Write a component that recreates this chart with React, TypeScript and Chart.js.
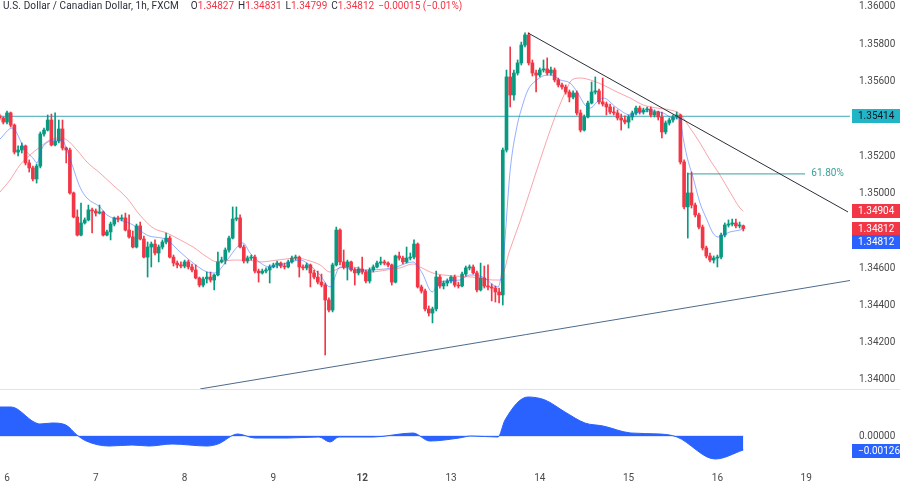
import React, { useEffect, useRef } from 'react';
import { Chart, registerables } from 'chart.js';

Chart.register(...registerables);

// ---------------- data (hourly candles, index = hours since start of day 6) ----------------
const FIRST_INDEX = -2;
const FIRST_OPEN = 1.35416;

const closes = [
  1.35405, 1.35383,
  1.35432, 1.35367, 1.35222, 1.35233, 1.35255, 1.35164, 1.35137, 1.35078, 1.35147, 1.35319,
  1.35340, 1.35394, 1.35260, 1.35281, 1.35346, 1.35244, 1.35233, 1.35003, 1.34874, 1.34777,
  1.34842, 1.34858, 1.34912, 1.34906, 1.34895, 1.34901, 1.34777, 1.34794, 1.34836, 1.34869,
  1.34863, 1.34869, 1.34804, 1.34767, 1.34713, 1.34826, 1.34756, 1.34659, 1.34713, 1.34729,
  1.34681, 1.34713, 1.34740, 1.34761, 1.34659, 1.34627, 1.34617, 1.34611, 1.34633, 1.34606,
  1.34590, 1.34547, 1.34509, 1.34542, 1.34552, 1.34536, 1.34563, 1.34633, 1.34643, 1.34697,
  1.34761, 1.34863, 1.34869, 1.34713, 1.34638, 1.34654, 1.34659, 1.34584, 1.34574, 1.34584,
  1.34590, 1.34606, 1.34617, 1.34627, 1.34611, 1.34606, 1.34633, 1.34654, 1.34659, 1.34606,
  1.34601, 1.34617, 1.34574, 1.34552, 1.34525, 1.34509, 1.34429, 1.34375, 1.34617, 1.34804,
  1.34633, 1.34606, 1.34633, 1.34590, 1.34574, 1.34595, 1.34579, 1.34531, 1.34590, 1.34606,
  1.34627, 1.34633, 1.34627, 1.34617, 1.34525, 1.34665, 1.34654, 1.34633, 1.34654, 1.34659,
  1.34729, 1.34499, 1.34477, 1.34381, 1.34359, 1.34381, 1.34552, 1.34504, 1.34520, 1.34531,
  1.34552, 1.34509, 1.34504, 1.34568, 1.34601, 1.34606, 1.34574, 1.34483, 1.34547, 1.34504,
  1.34499, 1.34493, 1.34472, 1.34456, 1.35233, 1.35625, 1.35528, 1.35646, 1.35700, 1.35796,
  1.35850, 1.35700, 1.35646, 1.35635, 1.35662, 1.35668, 1.35646, 1.35662, 1.35609, 1.35582,
  1.35571, 1.35544, 1.35517, 1.35539, 1.35432, 1.35340, 1.35410, 1.35485, 1.35544, 1.35550,
  1.35491, 1.35480, 1.35464, 1.35437, 1.35432, 1.35405, 1.35394, 1.35383, 1.35410, 1.35432,
  1.35458, 1.35437, 1.35448, 1.35453, 1.35421, 1.35437, 1.35410, 1.35330, 1.35378, 1.35394,
  1.35410, 1.35421, 1.35169, 1.34928, 1.35003, 1.34938, 1.34885, 1.34820, 1.34708, 1.34665,
  1.34643, 1.34654, 1.34659, 1.34777, 1.34831, 1.34836, 1.34842, 1.34826, 1.34827, 1.34812,
];

const highs = [
  1.35426, 1.35410,
  1.35442, 1.35437, 1.35373, 1.35255, 1.35271, 1.35260, 1.35180, 1.35147, 1.35158, 1.35330,
  1.35351, 1.35421, 1.35426, 1.35432, 1.35394, 1.35394, 1.35249, 1.35244, 1.35008, 1.34912,
  1.34949, 1.34869, 1.34938, 1.34922, 1.34917, 1.34938, 1.34906, 1.34804, 1.34847, 1.34874,
  1.34879, 1.34885, 1.34895, 1.34885, 1.34799, 1.34836, 1.34847, 1.34772, 1.34740, 1.34740,
  1.34751, 1.34724, 1.34751, 1.34788, 1.34772, 1.34670, 1.34638, 1.34633, 1.34643, 1.34643,
  1.34622, 1.34617, 1.34552, 1.34552, 1.34579, 1.34579, 1.34568, 1.34686, 1.34659, 1.34708,
  1.34772, 1.34928, 1.34928, 1.34885, 1.34724, 1.34665, 1.34670, 1.34670, 1.34595, 1.34595,
  1.34601, 1.34617, 1.34627, 1.34638, 1.34633, 1.34627, 1.34643, 1.34665, 1.34670, 1.34665,
  1.34617, 1.34627, 1.34622, 1.34590, 1.34584, 1.34568, 1.34520, 1.34440, 1.34627, 1.34820,
  1.34810, 1.34697, 1.34643, 1.34638, 1.34601, 1.34606, 1.34659, 1.34590, 1.34601, 1.34617,
  1.34638, 1.34659, 1.34643, 1.34633, 1.34622, 1.34670, 1.34686, 1.34665, 1.34713, 1.34681,
  1.34751, 1.34735, 1.34509, 1.34488, 1.34397, 1.34391, 1.34584, 1.34563, 1.34531, 1.34542,
  1.34558, 1.34563, 1.34525, 1.34579, 1.34611, 1.34617, 1.34617, 1.34584, 1.34627, 1.34611,
  1.34617, 1.34515, 1.34504, 1.34493, 1.35244, 1.35662, 1.35786, 1.35662, 1.35716, 1.35812,
  1.35861, 1.35861, 1.35716, 1.35662, 1.35673, 1.35716, 1.35727, 1.35678, 1.35673, 1.35619,
  1.35592, 1.35582, 1.35555, 1.35550, 1.35550, 1.35448, 1.35421, 1.35496, 1.35598, 1.35625,
  1.35560, 1.35619, 1.35491, 1.35480, 1.35464, 1.35448, 1.35426, 1.35416, 1.35421, 1.35442,
  1.35469, 1.35469, 1.35458, 1.35464, 1.35464, 1.35448, 1.35442, 1.35437, 1.35389, 1.35405,
  1.35421, 1.35437, 1.35426, 1.35180, 1.35110, 1.35115, 1.34949, 1.34895, 1.34831, 1.34718,
  1.34681, 1.34665, 1.34670, 1.34788, 1.34842, 1.34858, 1.34863, 1.34863, 1.34847, 1.34831,
];

const lows = [
  1.35394, 1.35373,
  1.35373, 1.35357, 1.35212, 1.35201, 1.35217, 1.35153, 1.35115, 1.35067, 1.35056, 1.35137,
  1.35308, 1.35335, 1.35255, 1.35255, 1.35271, 1.35233, 1.35164, 1.34997, 1.34869, 1.34772,
  1.34772, 1.34836, 1.34853, 1.34788, 1.34879, 1.34890, 1.34772, 1.34772, 1.34751, 1.34826,
  1.34847, 1.34853, 1.34799, 1.34761, 1.34708, 1.34708, 1.34751, 1.34654, 1.34552, 1.34606,
  1.34670, 1.34633, 1.34702, 1.34729, 1.34654, 1.34611, 1.34601, 1.34601, 1.34601, 1.34595,
  1.34579, 1.34542, 1.34499, 1.34499, 1.34520, 1.34525, 1.34483, 1.34558, 1.34627, 1.34622,
  1.34686, 1.34756, 1.34853, 1.34708, 1.34627, 1.34627, 1.34643, 1.34574, 1.34525, 1.34568,
  1.34574, 1.34520, 1.34601, 1.34601, 1.34601, 1.34595, 1.34601, 1.34627, 1.34643, 1.34552,
  1.34590, 1.34590, 1.34499, 1.34542, 1.34515, 1.34499, 1.34134, 1.34365, 1.34365, 1.34611,
  1.34617, 1.34595, 1.34536, 1.34584, 1.34509, 1.34563, 1.34568, 1.34520, 1.34520, 1.34579,
  1.34601, 1.34617, 1.34617, 1.34606, 1.34509, 1.34520, 1.34643, 1.34622, 1.34627, 1.34643,
  1.34649, 1.34493, 1.34466, 1.34370, 1.34343, 1.34306, 1.34370, 1.34493, 1.34488, 1.34504,
  1.34520, 1.34499, 1.34493, 1.34499, 1.34558, 1.34590, 1.34568, 1.34472, 1.34477, 1.34493,
  1.34483, 1.34424, 1.34418, 1.34413, 1.34402, 1.35222, 1.35464, 1.35501, 1.35635, 1.35689,
  1.35786, 1.35689, 1.35630, 1.35544, 1.35625, 1.35651, 1.35635, 1.35635, 1.35598, 1.35571,
  1.35560, 1.35533, 1.35491, 1.35507, 1.35421, 1.35330, 1.35335, 1.35405, 1.35480, 1.35533,
  1.35480, 1.35469, 1.35421, 1.35426, 1.35421, 1.35394, 1.35340, 1.35373, 1.35351, 1.35394,
  1.35421, 1.35426, 1.35426, 1.35437, 1.35410, 1.35410, 1.35394, 1.35298, 1.35319, 1.35367,
  1.35383, 1.35399, 1.35158, 1.34917, 1.34761, 1.34922, 1.34874, 1.34810, 1.34697, 1.34654,
  1.34633, 1.34627, 1.34606, 1.34649, 1.34767, 1.34820, 1.34826, 1.34815, 1.34815, 1.34799,
];

// fast moving average (blue)
const fastMaIdx = [
  -1.9, 1.4, 4.9, 7.0, 8.1, 9.5, 11.1, 13.0, 14.9, 16.2, 17.8, 19.7, 21.6, 25.1, 27.0, 30.5,
  34.1, 37.8, 43.2, 46.8, 50.3, 54.1, 56.2, 59.5, 62.2, 63.8, 65.7, 71.1, 75.7, 79.2, 82.7,
  84.6, 87.3, 90.0, 95.4, 104.3, 109.7, 112.2, 114.9, 117.0, 122.4, 125.1, 128.6, 132.7, 134.1,
  136.0, 137.8, 139.2, 140.8, 143.2, 145.9, 147.3, 149.5, 152.2, 154.1, 156.2, 157.6, 159.5,
  161.1, 164.9, 168.4, 170.3, 173.8, 177.3, 180.0, 181.9, 182.7, 183.8, 185.4, 187.3, 189.2,
  190.8, 192.2, 193.5, 195.4, 198.1, 199,
];
const fastMaVal = [
  1.35292, 1.35351, 1.35233, 1.35190, 1.35164, 1.35244, 1.35276, 1.35287, 1.35287, 1.35233,
  1.35142, 1.35035, 1.34976, 1.34928, 1.34885, 1.34858, 1.34831, 1.34777, 1.34751, 1.34686,
  1.34627, 1.34579, 1.34574, 1.34643, 1.34713, 1.34735, 1.34681, 1.34606, 1.34627, 1.34643,
  1.34601, 1.34563, 1.34499, 1.34606, 1.34590, 1.34601, 1.34633, 1.34574, 1.34472, 1.34525,
  1.34536, 1.34563, 1.34552, 1.34499, 1.34643, 1.35126, 1.35357, 1.35464, 1.35555, 1.35609,
  1.35635, 1.35635, 1.35609, 1.35592, 1.35544, 1.35475, 1.35458, 1.35491, 1.35512, 1.35458,
  1.35421, 1.35432, 1.35442, 1.35432, 1.35405, 1.35405, 1.35303, 1.35196, 1.35088, 1.34949,
  1.34858, 1.34788, 1.34767, 1.34777, 1.34794, 1.34804, 1.34812,
];

// slow moving average (pink)
const slowMaIdx = [
  -1.9, 0.8, 3.5, 6.2, 8.9, 11.6, 14.3, 16.2, 18.9, 21.6, 25.1, 28.6, 32.4, 35.9, 39.5, 43.2,
  46.8, 50.3, 54.1, 56.8, 61.1, 64.9, 68.4, 73.0, 78.4, 81.1, 84.6, 87.3, 90.0, 93.5, 98.1,
  102.7, 106.2, 109.7, 111.6, 115.1, 120.5, 125.9, 131.4, 133.2, 135.9, 138.6, 144.1, 147.6,
  150.8, 152.7, 154.9, 157.6, 161.1, 164.9, 168.4, 171.9, 175.7, 179.2, 181.9, 184.6, 187.3,
  190.0, 192.7, 195.4, 198.1, 199,
];
const slowMaVal = [
  1.35008, 1.35072, 1.35153, 1.35206, 1.35249, 1.35287, 1.35298, 1.35287, 1.35233, 1.35169,
  1.35110, 1.35046, 1.34976, 1.34885, 1.34815, 1.34788, 1.34751, 1.34713, 1.34659, 1.34633,
  1.34643, 1.34643, 1.34633, 1.34643, 1.34654, 1.34643, 1.34617, 1.34579, 1.34601, 1.34606,
  1.34579, 1.34590, 1.34601, 1.34622, 1.34606, 1.34574, 1.34558, 1.34552, 1.34536, 1.34536,
  1.34697, 1.34847, 1.35180, 1.35383, 1.35539, 1.35609, 1.35619, 1.35609, 1.35582, 1.35544,
  1.35512, 1.35475, 1.35458, 1.35448, 1.35426, 1.35351, 1.35271, 1.35180, 1.35099, 1.35008,
  1.34922, 1.34904,
];

// oscillator (lower pane)
const oscIdx = [
  -1.9, 1.1, 7.3, 8.9, 12.2, 15.9, 18.9, 21.4, 27.6, 33.8, 38.4, 44.6, 54.1, 57.0, 62.4, 67.0,
  75.7, 84.3, 87.3, 89.7, 98.9, 109.7, 114.3, 122.2, 125.4, 132.7, 134.6, 140.8, 145.4, 150.8,
  156.2, 161.1, 168.6, 176.5, 181.1, 191.4, 199,
];
const oscVal = [
  0.00261, 0.00261, 0.00126, 0.00108, 0.00117, 0.00099, 0.00009, -0.00045, -0.00090, -0.00081,
  -0.00090, -0.00072, -0.00090, -0.00072, 0.00018, -0.00018, -0.00018, -0.00009, -0.00054,
  -0.00009, -0.00009, 0.00027, -0.00045, -0.00018, 0.0, -0.00009, 0.00144, 0.00351, 0.00324,
  0.00216, 0.00117, 0.00090, 0.00027, 0.00018, -0.00009, -0.00207, -0.00126,
];

// drawings
const downTrendIdx = [140.8, 227.3];
const downTrendVal = [1.35861, 1.34901];
const upTrendIdx = [52.2, 228.6];
const upTrendVal = [1.33952, 1.34536];
const levelPrice = 1.35414;
const fibPrice = 1.35105;
const fibIdx = [184, 215.7];
const fibLabelIdx = 217.4;
const fibLabel = '61.80%';

// tick labels
const priceTicks = [1.34, 1.342, 1.344, 1.346, 1.35, 1.352, 1.356, 1.358, 1.36];
const dayTickIdx = [0, 24, 48, 72, 96, 120, 144, 168, 192, 216];
const dayTickLabels = ['6', '7', '8', '9', '12', '13', '14', '15', '16', '19'];
const oscTicks = [0];

// header
const headerTitle = 'U.S. Dollar / Canadian Dollar, 1h, FXCM';
const ohlcKeys = ['O', 'H', 'L', 'C'];
const ohlcValues = ['1.34827', '1.34831', '1.34799', '1.34812'];
const changeText = '\u22120.00015 (\u22120.01%)';

// last values for axis tags
const lastPrice = 1.34812;
const fastMaLast = 1.34812;
const slowMaLast = 1.34904;
const oscLast = -0.00126;

// ---------------- layout / style ----------------
const X_MIN = -1.892;
const X_MAX = 227.84;
const PRICE_MIN = 1.339517;
const PRICE_MAX = 1.360375;
const OSC_MIN = -0.0027;
const OSC_MAX = 0.00423;
const UP = '#089981';
const DOWN = '#f23645';
const FONT = 'Roboto, "Liberation Sans", sans-serif';
const AXIS_TEXT = '#4a4a4a';

function drawTag(ctx: CanvasRenderingContext2D, y: number, text: string, bg: string, fg: string) {
  ctx.fillStyle = bg;
  ctx.fillRect(852, Math.round(y - 7), 48, 14);
  ctx.fillStyle = fg;
  ctx.textAlign = 'left';
  ctx.textBaseline = 'middle';
  ctx.fillText(text, 858, Math.round(y - 7) + 7.5);
}

export default function App() {
  const priceRef = useRef<HTMLCanvasElement>(null);
  const oscRef = useRef<HTMLCanvasElement>(null);

  useEffect(() => {
    document.body.style.margin = '0';
    const opens = closes.map((_, k) => (k === 0 ? FIRST_OPEN : closes[k - 1]));
    const xs = closes.map((_, k) => FIRST_INDEX + k);
    const colors = closes.map((c, k) => (c >= opens[k] ? UP : DOWN));

    const priceTags = {
      id: 'priceTags',
      afterDraw(chart: any) {
        const { ctx, scales } = chart;
        const x = scales.x;
        const y = scales.y;
        ctx.save();
        ctx.font = `10px ${FONT}`;
        ctx.fillStyle = '#3a9f98';
        ctx.textAlign = 'left';
        ctx.textBaseline = 'middle';
        ctx.fillText(fibLabel, x.getPixelForValue(fibLabelIdx), y.getPixelForValue(fibPrice));
        drawTag(ctx, y.getPixelForValue(levelPrice), levelPrice.toFixed(5), '#22b5c8', '#131722');
        const tags = [
          { v: slowMaLast, bg: DOWN },
          { v: lastPrice, bg: DOWN },
          { v: fastMaLast, bg: '#2962ff' },
        ];
        let prev = -100;
        tags.forEach((t) => {
          let py = y.getPixelForValue(t.v);
          if (py < prev + 13) py = prev + 13;
          prev = py;
          drawTag(ctx, py, t.v.toFixed(5), t.bg, '#ffffff');
        });
        ctx.restore();
      },
    };

    const c1 = new Chart(priceRef.current as HTMLCanvasElement, {
      type: 'line',
      data: {
        datasets: [
          {
            type: 'line',
            label: 'down trend',
            data: downTrendIdx.map((x, k) => ({ x, y: downTrendVal[k] })),
            borderColor: '#2a2e39',
            borderWidth: 1,
            pointRadius: 0,
            order: 0,
          },
          {
            type: 'line',
            label: 'up trend',
            data: upTrendIdx.map((x, k) => ({ x, y: upTrendVal[k] })),
            borderColor: '#4d6a8c',
            borderWidth: 1,
            pointRadius: 0,
            order: 0,
          },
          {
            type: 'line',
            label: 'fast MA',
            data: fastMaIdx.map((x, k) => ({ x, y: fastMaVal[k] })),
            borderColor: 'rgba(41,98,255,0.5)',
            borderWidth: 1,
            pointRadius: 0,
            cubicInterpolationMode: 'monotone',
            order: 1,
          },
          {
            type: 'line',
            label: 'slow MA',
            data: slowMaIdx.map((x, k) => ({ x, y: slowMaVal[k] })),
            borderColor: 'rgba(242,54,69,0.45)',
            borderWidth: 1,
            pointRadius: 0,
            cubicInterpolationMode: 'monotone',
            order: 1,
          },
          {
            type: 'bar',
            label: 'bodies',
            data: xs.map((x, k) => ({ x, y: [opens[k], closes[k]] })) as any,
            backgroundColor: colors,
            barThickness: 3,
            minBarLength: 1,
            grouped: false,
            borderWidth: 0,
            order: 2,
          } as any,
          {
            type: 'bar',
            label: 'wicks',
            data: xs.map((x, k) => ({ x, y: [lows[k], highs[k]] })) as any,
            backgroundColor: colors,
            barThickness: 1,
            grouped: false,
            borderWidth: 0,
            order: 3,
          } as any,
          {
            type: 'line',
            label: 'level',
            data: [
              { x: X_MIN, y: levelPrice },
              { x: X_MAX, y: levelPrice },
            ],
            borderColor: '#3fa9b5',
            borderWidth: 1,
            pointRadius: 0,
            order: 4,
          },
          {
            type: 'line',
            label: 'fib',
            data: fibIdx.map((x) => ({ x, y: fibPrice })),
            borderColor: '#3a9f98',
            borderWidth: 1,
            pointRadius: 0,
            order: 4,
          },
        ] as any,
      },
      options: {
        responsive: false,
        maintainAspectRatio: false,
        animation: false,
        layout: { padding: 0 },
        plugins: { legend: { display: false }, tooltip: { enabled: false } },
        scales: {
          x: {
            type: 'linear',
            min: X_MIN,
            max: X_MAX,
            display: false,
            offset: false,
          },
          y: {
            type: 'linear',
            position: 'right',
            min: PRICE_MIN,
            max: PRICE_MAX,
            grid: { display: false, drawTicks: false },
            border: { display: false },
            afterBuildTicks: (s: any) => {
              s.ticks = priceTicks.map((v) => ({ value: v }));
            },
            afterFit: (s: any) => {
              s.width = 50;
              s.paddingTop = 0;
              s.paddingBottom = 0;
            },
            ticks: {
              autoSkip: false,
              padding: 9,
              color: AXIS_TEXT,
              font: { family: FONT, size: 10 },
              callback: (v: any) => Number(v).toFixed(5),
            },
          },
        },
      } as any,
      plugins: [priceTags],
    });

    const oscPlugin = {
      id: 'oscExtras',
      beforeDraw(chart: any) {
        const { ctx } = chart;
        ctx.save();
        ctx.strokeStyle = '#e0e3eb';
        ctx.lineWidth = 1;
        ctx.beginPath();
        ctx.moveTo(0, 0.5);
        ctx.lineTo(900, 0.5);
        ctx.stroke();
        ctx.restore();
      },
      afterDraw(chart: any) {
        const { ctx, scales } = chart;
        ctx.save();
        ctx.font = `10px ${FONT}`;
        const zero = scales.y.getPixelForValue(0);
        let py = scales.y.getPixelForValue(oscLast);
        if (py < zero + 15) py = zero + 15;
        drawTag(ctx, py, oscLast.toFixed(5).replace('-', '\u2212'), '#2962ff', '#ffffff');
        ctx.restore();
      },
    };

    const c2 = new Chart(oscRef.current as HTMLCanvasElement, {
      type: 'line',
      data: {
        datasets: [
          {
            type: 'line',
            label: 'oscillator',
            data: oscIdx.map((x, k) => ({ x, y: oscVal[k] })),
            fill: 'origin',
            backgroundColor: '#2962ff',
            borderColor: '#2962ff',
            borderWidth: 1,
            pointRadius: 0,
            cubicInterpolationMode: 'monotone',
            order: 0,
          },
          {
            type: 'line',
            label: 'zero',
            data: [
              { x: oscIdx[0], y: 0 },
              { x: oscIdx[oscIdx.length - 1], y: 0 },
            ],
            borderColor: 'rgba(41,98,255,0.35)',
            borderWidth: 1,
            pointRadius: 0,
            order: 1,
          },
        ] as any,
      },
      options: {
        responsive: false,
        maintainAspectRatio: false,
        animation: false,
        layout: { padding: 0 },
        plugins: { legend: { display: false }, tooltip: { enabled: false } },
        scales: {
          x: {
            type: 'linear',
            position: 'bottom',
            min: X_MIN,
            max: X_MAX,
            offset: false,
            grid: { display: false, drawTicks: false },
            border: { display: false },
            afterBuildTicks: (s: any) => {
              s.ticks = dayTickIdx.map((v) => ({ value: v }));
            },
            afterFit: (s: any) => {
              s.height = 18;
              s.paddingLeft = 0;
              s.paddingRight = 0;
            },
            ticks: {
              autoSkip: false,
              maxRotation: 0,
              padding: 6,
              color: AXIS_TEXT,
              font: (ctx: any) => ({
                family: FONT,
                size: 10,
                weight: dayTickLabels[ctx.index] === '12' ? 'bold' : 'normal',
              }),
              callback: (v: any, i: number) => dayTickLabels[i],
            },
          },
          y: {
            type: 'linear',
            position: 'right',
            min: OSC_MIN,
            max: OSC_MAX,
            grid: { display: false, drawTicks: false },
            border: { display: false },
            afterBuildTicks: (s: any) => {
              s.ticks = oscTicks.map((v) => ({ value: v }));
            },
            afterFit: (s: any) => {
              s.width = 50;
              s.paddingTop = 0;
              s.paddingBottom = 0;
            },
            ticks: {
              autoSkip: false,
              padding: 9,
              color: AXIS_TEXT,
              font: { family: FONT, size: 10 },
              callback: (v: any) => Number(v).toFixed(5),
            },
          },
        },
      } as any,
      plugins: [oscPlugin],
    });

    return () => {
      c1.destroy();
      c2.destroy();
    };
  }, []);

  return (
    <div
      style={{
        position: 'fixed',
        left: 0,
        top: 0,
        width: 900,
        height: 484,
        background: '#ffffff',
        overflow: 'hidden',
      }}
    >
      <canvas ref={priceRef} width={900} height={389} style={{ position: 'absolute', left: 0, top: 0 }} />
      <canvas ref={oscRef} width={900} height={95} style={{ position: 'absolute', left: 0, top: 389 }} />
      <div
        style={{
          position: 'absolute',
          left: 3,
          top: -1,
          fontFamily: FONT,
          fontSize: 10,
          lineHeight: '14px',
          color: '#2a2e39',
          whiteSpace: 'pre',
        }}
      >
        <span style={{ letterSpacing: 0.1 }}>{headerTitle}</span>
        <span style={{ marginLeft: 12 }} />
        {ohlcKeys.map((k, i) => (
          <span key={k} style={{ marginRight: 4 }}>
            {k}
            <span style={{ color: DOWN }}>{ohlcValues[i]}</span>
          </span>
        ))}
        <span style={{ color: DOWN }}>{changeText}</span>
      </div>
    </div>
  );
}
